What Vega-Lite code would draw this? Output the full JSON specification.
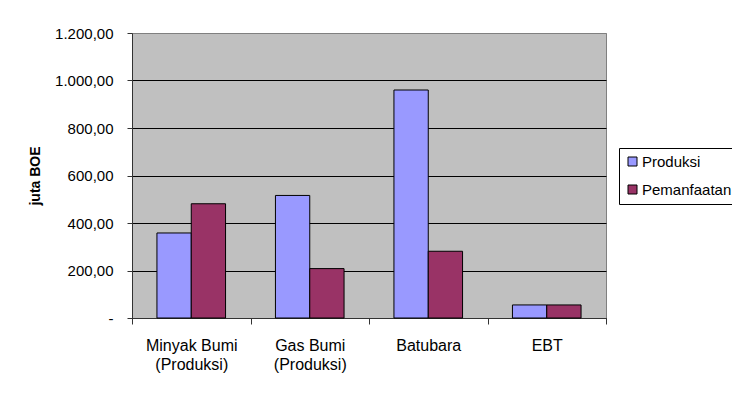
{
  "$schema": "https://vega.github.io/schema/vega-lite/v6.json",
  "autosize": {"type": "none"},
  "padding": {"left": 132, "top": 33, "right": 126, "bottom": 79},
  "width": 474,
  "height": 285,
  "background": "white",
  "data": {
    "values": [
      {"kategori": "Minyak Bumi (Produksi)", "jenis": "Produksi", "nilai": 358},
      {"kategori": "Minyak Bumi (Produksi)", "jenis": "Pemanfaatan", "nilai": 481},
      {"kategori": "Gas Bumi (Produksi)", "jenis": "Produksi", "nilai": 516},
      {"kategori": "Gas Bumi (Produksi)", "jenis": "Pemanfaatan", "nilai": 208},
      {"kategori": "Batubara", "jenis": "Produksi", "nilai": 960},
      {"kategori": "Batubara", "jenis": "Pemanfaatan", "nilai": 281},
      {"kategori": "EBT", "jenis": "Produksi", "nilai": 55},
      {"kategori": "EBT", "jenis": "Pemanfaatan", "nilai": 55}
    ]
  },
  "mark": {"type": "bar", "stroke": "black", "strokeWidth": 1},
  "encoding": {
    "x": {
      "field": "kategori",
      "type": "nominal",
      "sort": null,
      "scale": {"paddingInner": 0, "paddingOuter": 0},
      "axis": {
        "title": null,
        "labelAngle": 0,
        "tickBand": "extent",
        "tickSize": 6,
        "tickColor": "#333333",
        "domainColor": "#333333",
        "labelPadding": 13,
        "labelFont": "Liberation Sans",
        "labelFontSize": 16,
        "labelColor": "black",
        "labelLineHeight": 19,
        "labelExpr": "indexof(datum.label, '(') > 0 ? [substring(datum.label, 0, indexof(datum.label, '(') - 1), substring(datum.label, indexof(datum.label, '('))] : datum.label"
      }
    },
    "xOffset": {
      "field": "jenis",
      "type": "nominal",
      "sort": ["Produksi", "Pemanfaatan"],
      "scale": {"paddingInner": 0, "paddingOuter": 0.727}
    },
    "y": {
      "field": "nilai",
      "type": "quantitative",
      "scale": {"domain": [0, 1200], "nice": false},
      "axis": {
        "title": "juta BOE",
        "titleFont": "Liberation Sans",
        "titleFontSize": 14,
        "titleFontWeight": "bold",
        "titleColor": "black",
        "titlePadding": 12,
        "values": [0, 200, 400, 600, 800, 1000, 1200],
        "grid": true,
        "gridColor": {"condition": {"test": "datum.value == 1200", "value": "#808080"}, "value": "black"},
        "gridOpacity": 1,
        "tickSize": 5,
        "tickColor": "#333333",
        "domainColor": "#333333",
        "labelPadding": 14,
        "labelFont": "Liberation Sans",
        "labelFontSize": 15,
        "labelColor": "black",
        "labelExpr": "datum.value == 0 ? '-' : replace(replace(replace(format(datum.value, ',.2f'), ',', '_'), '.', ','), '_', '.')"
      }
    },
    "color": {
      "field": "jenis",
      "type": "nominal",
      "sort": ["Produksi", "Pemanfaatan"],
      "scale": {"domain": ["Produksi", "Pemanfaatan"], "range": ["#9999FF", "#993366"]},
      "legend": {
        "title": null,
        "orient": "none",
        "legendX": 487,
        "legendY": 115,
        "padding": 6,
        "strokeColor": "black",
        "fillColor": "white",
        "symbolType": "square",
        "symbolSize": 81,
        "symbolStrokeColor": "black",
        "symbolStrokeWidth": 1,
        "symbolOpacity": 1,
        "labelFont": "Liberation Sans",
        "labelFontSize": 15,
        "labelColor": "black",
        "labelOffset": 2,
        "rowPadding": 12
      }
    }
  },
  "config": {
    "view": {"fill": "#C0C0C0", "stroke": "#808080", "strokeWidth": 1}
  }
}
